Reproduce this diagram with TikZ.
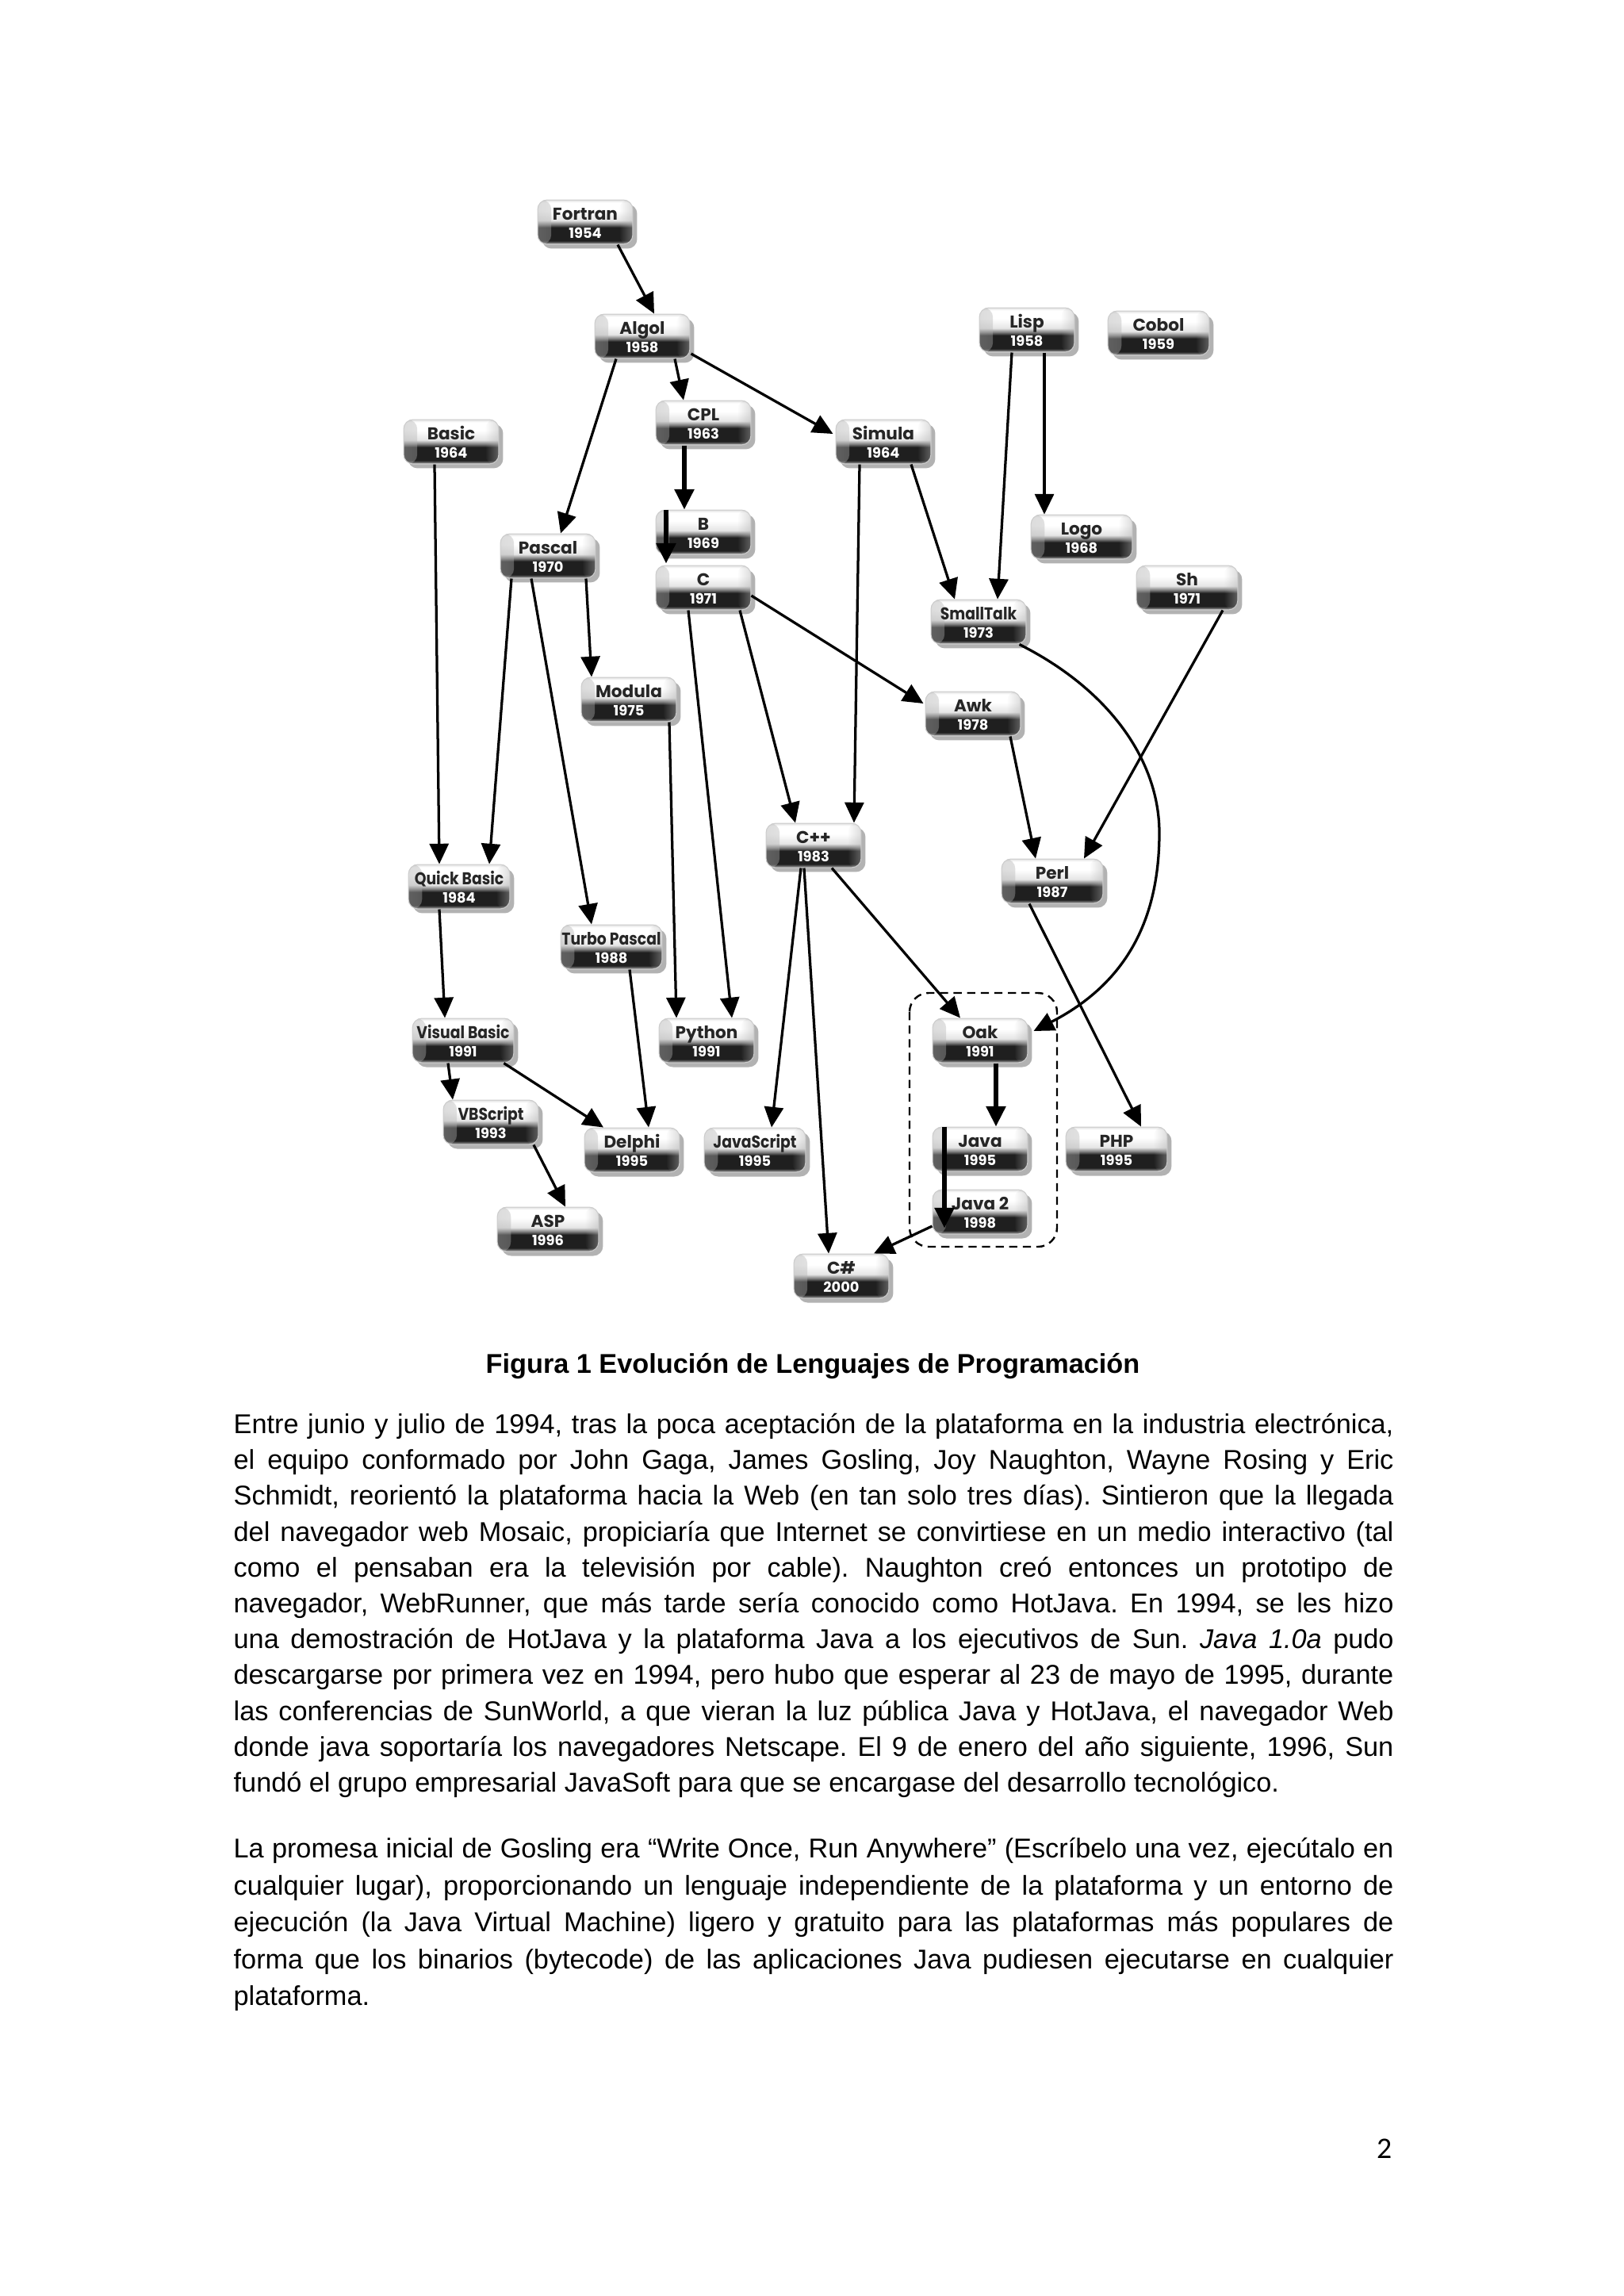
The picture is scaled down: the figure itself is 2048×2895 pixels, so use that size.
\documentclass[tikz,border=0pt]{standalone}
\usepackage{fontspec}
\usepackage{graphicx}
\setmainfont{Liberation Sans}
\newfontfamily\pillfont{Poppins}
\newfontfamily\pagenumfont{Carlito}
\usetikzlibrary{arrows.meta,shadows,fadings}
\pgfdeclareverticalshading{pillshade}{100bp}{%
 color(0bp)=(black!28); color(25bp)=(black!28); color(27bp)=(black!60);
 color(29bp)=(black!88); color(44bp)=(black!88); color(47.5bp)=(black!50);
 color(52bp)=(black!10); color(63bp)=(white); color(72bp)=(white); color(75bp)=(black!12);
 color(100bp)=(black!12)}
\tikzfading[name=edgeL, left color=transparent!55, right color=transparent!100]
\tikzfading[name=edgeR, left color=transparent!100, right color=transparent!55]
\tikzset{
 pill/.style={rectangle, rounded corners=3.5pt, minimum width=1.23cm,
   minimum height=0.574cm, inner sep=0pt, shade, shading=pillshade,
   draw=black!20, line width=0.3pt,
   path picture={
     \fill[black!30, path fading=edgeL] (path picture bounding box.south west)
        rectangle ([xshift=5pt]path picture bounding box.north west);
     \fill[black!30, path fading=edgeR] ([xshift=-5pt]path picture bounding box.south east)
        rectangle (path picture bounding box.north east);},
   drop shadow={shadow xshift=1.6pt, shadow yshift=-1.6pt, opacity=0.3, fill=black}},
 wide/.style={minimum width=1.31cm},
 lbl/.style={anchor=base, inner sep=0pt, text=black!85,
   font=\pillfont\bfseries\fontsize{6.3}{7}\selectfont},
 yr/.style={anchor=base, inner sep=0pt, text=white,
   font=\pillfont\bfseries\fontsize{5.2}{6}\selectfont},
 arr/.style={line width=0.95pt, -{Triangle[length=7.5pt,width=7pt]}},
 tarr/.style={line width=1.7pt, -{Triangle[length=7.5pt,width=7pt]}},
 grp/.style={line width=0.7pt, dash pattern=on 3pt off 2pt, rounded corners=7pt},
 bodyline/.style={anchor=base west, inner sep=0pt, font=\fontsize{10}{12}\selectfont},
}
\newcommand\langbox[5][]{%
 \node[pill,#1] (#2) at (#3) {};
 \node[lbl] (#2-l) at ([yshift=0.6pt]#2.center) {#4};
 \node[yr] (#2-y) at ([yshift=-6pt]#2.center) {#5};
}
\newcommand\narrow[1]{\scalebox{0.87}[1]{#1}}
\frenchspacing
\begin{document}
\begin{tikzpicture}[x=0.010254cm,y=-0.010254cm]
\useasboundingbox[fill=white] (0,0) rectangle (2048,2895);

% ---- language boxes
\langbox{fortran}{738,280}{Fortran}{1954}
\langbox{algol}{810,424}{Algol}{1958}
\langbox{lisp}{1295,416}{Lisp}{1958}
\langbox[wide]{cobol}{1461,420}{Cobol}{1959}
\langbox{basic}{569,557}{Basic}{1964}
\langbox{cpl}{887,533}{CPL}{1963}
\langbox{simula}{1114,557}{Simula}{1964}
\langbox[wide]{logo}{1364,677}{Logo}{1968}
\langbox{b}{887,671}{B}{1969}
\langbox{pascal}{691,701}{Pascal}{1970}
\langbox{c}{887,741}{C}{1971}
\langbox[wide]{sh}{1497,741}{Sh}{1971}
\langbox{smalltalk}{1234,784}{\narrow{SmallTalk}}{1973}
\langbox{modula}{793,882}{Modula}{1975}
\langbox{awk}{1227,900}{Awk}{1978}
\langbox{cpp}{1026,1066}{C++}{1983}
\langbox[wide]{perl}{1327,1111}{Perl}{1987}
\langbox[wide]{quickbasic}{579,1118}{\narrow{Quick Basic}}{1984}
\langbox[wide]{turbopascal}{771,1194}{\narrow{Turbo Pascal}}{1988}
\langbox[wide]{visualbasic}{584,1312}{\narrow{Visual Basic}}{1991}
\langbox{python}{891,1312}{Python}{1991}
\langbox{oak}{1236,1312}{Oak}{1991}
\langbox{vbscript}{619,1415}{\narrow{VBScript}}{1993}
\langbox{delphi}{797,1450}{Delphi}{1995}
\langbox[wide]{javascript}{952,1450}{\narrow{JavaScript}}{1995}
\langbox{java}{1236,1449}{Java}{1995}
\langbox[wide]{php}{1408,1449}{PHP}{1995}
\langbox{java2}{1236,1528}{Java 2}{1998}
\langbox[wide]{asp}{691,1550}{ASP}{1996}
\langbox{csharp}{1061,1609}{C\#}{2000}

% ---- group
\draw[grp] (1147,1252) rectangle (1333,1572);

% ---- connectors
\draw[arr] ([shift={(41,0)}]fortran.south) -- ([shift={(15,0)}]algol.north);
\draw[arr] ([shift={(-33,0)}]algol.south) -- ([shift={(16,0)}]pascal.north);
\draw[arr] ([shift={(41,0)}]algol.south) -- ([shift={(-25,0)}]cpl.north);
\draw[arr] ([shift={(1,22)}]algol.east) -- ([shift={(-3,-10)}]simula.west);
\draw[tarr] ([shift={(-24,0)}]cpl.south) -- ([shift={(-24,0)}]b.north);
\draw[tarr] ([shift={(-47,0)}]b.north) -- ([shift={(-47,-2)}]c.north);
\draw[arr] ([shift={(-21,0)}]basic.south) -- ([shift={(-25,0)}]quickbasic.north);
\draw[arr] ([shift={(-46,0)}]pascal.south) -- ([shift={(38,0)}]quickbasic.north);
\draw[arr] ([shift={(-21,0)}]pascal.south) -- ([shift={(-25,0)}]turbopascal.north);
\draw[arr] ([shift={(48,0)}]pascal.south) -- ([shift={(-47,0)}]modula.north);
\draw[arr] ([shift={(-19,0)}]lisp.south) -- ([shift={(24,0)}]smalltalk.north);
\draw[arr] ([shift={(22,0)}]lisp.south) -- ([shift={(-47,0)}]logo.north);
\draw[arr] ([shift={(35,0)}]simula.south) -- ([shift={(-30,0)}]smalltalk.north);
\draw[arr] ([shift={(-30,0)}]simula.south) -- ([shift={(51,0)}]cpp.north);
\draw[arr] ([shift={(46,0)}]c.south) -- ([shift={(-23,0)}]cpp.north);
\draw[arr] ([shift={(0,10)}]c.east) -- ([shift={(-2,-13)}]awk.west);
\draw[arr] ([shift={(-19,0)}]c.south) -- ([shift={(32,0)}]python.north);
\draw[arr] ([shift={(51,0)}]modula.south) -- ([shift={(-38,0)}]python.north);
\draw[arr] ([shift={(45,0)}]sh.south) -- ([shift={(40,0)}]perl.north);
\draw[arr] ([shift={(47,0)}]awk.south) -- ([shift={(-21,0)}]perl.north);
\draw[arr] ([shift={(-9,0)}]smalltalk.south east) .. controls (1400,870) and (1462,960) .. (1462,1050)
   .. controls (1462,1160) and (1420,1240) .. ([shift={(7,-12)}]oak.east);
\draw[arr] ([shift={(23,0)}]cpp.south) -- ([shift={(-25,0)}]oak.north);
\draw[arr] ([shift={(-16,0)}]cpp.south) -- ([shift={(21,0)}]javascript.north);
\draw[arr] ([shift={(-12,0)}]cpp.south) -- ([shift={(-16,0)}]csharp.north);
\draw[arr] ([shift={(-29,0)}]perl.south) -- ([shift={(31,0)}]php.north);
\draw[arr] ([shift={(-25,0)}]quickbasic.south) -- ([shift={(-23,0)}]visualbasic.north);
\draw[arr] ([shift={(23,0)}]turbopascal.south) -- ([shift={(21,0)}]delphi.north);
\draw[arr] ([shift={(-19,0)}]visualbasic.south) -- ([shift={(-48,0)}]vbscript.north);
\draw[arr] ([shift={(-13,0)}]visualbasic.south east) -- ([shift={(-36,0)}]delphi.north);
\draw[arr] ([shift={(54,0)}]vbscript.south) -- ([shift={(22,0)}]asp.north);
\draw[tarr] ([shift={(20,0)}]oak.south) -- ([shift={(20,0)}]java.north);
\draw[tarr] ([shift={(-45,0)}]java.north) -- ([shift={(-45,-8)}]java2.south);
\draw[arr] ([shift={(0,18)}]java2.west) -- ([shift={(41,0)}]csharp.north);

% ---- caption and text
\node[anchor=base, inner sep=0pt, font=\bfseries\fontsize{10}{12}\selectfont] (caption) at (1025,1731)
  {Figura 1 Evolución de Lenguajes de Programación};

\node[bodyline] (p1a) at (294,1807) {\makebox[15cm][s]{Entre junio y julio de 1994, tras la poca aceptación de la plataforma en la industria electrónica,}};
\node[bodyline] (p1b) at (294,1852) {\makebox[15cm][s]{el equipo conformado por John Gaga, James Gosling, Joy Naughton, Wayne Rosing y Eric}};
\node[bodyline] (p1c) at (294,1897) {\makebox[15cm][s]{Schmidt, reorientó la plataforma hacia la Web (en tan solo tres días). Sintieron que la llegada}};
\node[bodyline] (p1d) at (294,1943) {\makebox[15cm][s]{del navegador web Mosaic, propiciaría que Internet se convirtiese en un medio interactivo (tal}};
\node[bodyline] (p1e) at (294,1988) {\makebox[15cm][s]{como el pensaban era la televisión por cable). Naughton creó entonces un prototipo de}};
\node[bodyline] (p1f) at (294,2033) {\makebox[15cm][s]{navegador, WebRunner, que más tarde sería conocido como HotJava. En 1994, se les hizo}};
\node[bodyline] (p1g) at (294,2078) {\makebox[15cm][s]{una demostración de HotJava y la plataforma Java a los ejecutivos de Sun. \textit{Java 1.0a} pudo}};
\node[bodyline] (p1h) at (294,2123) {\makebox[15cm][s]{descargarse por primera vez en 1994, pero hubo que esperar al 23 de mayo de 1995, durante}};
\node[bodyline] (p1i) at (294,2169) {\makebox[15cm][s]{las conferencias de SunWorld, a que vieran la luz pública Java y HotJava, el navegador Web}};
\node[bodyline] (p1j) at (294,2214) {\makebox[15cm][s]{donde java soportaría los navegadores Netscape. El 9 de enero del año siguiente, 1996, Sun}};
\node[bodyline] (p1k) at (294,2259) {fundó el grupo empresarial JavaSoft para que se encargase del desarrollo tecnológico.};

\node[bodyline] (p2a) at (294,2342) {\makebox[15cm][s]{La promesa inicial de Gosling era “Write Once, Run Anywhere” (Escríbelo una vez, ejecútalo en}};
\node[bodyline] (p2b) at (294,2389) {\makebox[15cm][s]{cualquier lugar), proporcionando un lenguaje independiente de la plataforma y un entorno de}};
\node[bodyline] (p2c) at (294,2435) {\makebox[15cm][s]{ejecución (la Java Virtual Machine) ligero y gratuito para las plataformas más populares de}};
\node[bodyline] (p2d) at (294,2482) {\makebox[15cm][s]{forma que los binarios (bytecode) de las aplicaciones Java pudiesen ejecutarse en cualquier}};
\node[bodyline] (p2e) at (294,2528) {plataforma.};

\node[anchor=base east, inner sep=0pt, font=\pagenumfont\fontsize{11}{13}\selectfont] (pagenum) at (1756,2721) {2};
\end{tikzpicture}
\end{document}
